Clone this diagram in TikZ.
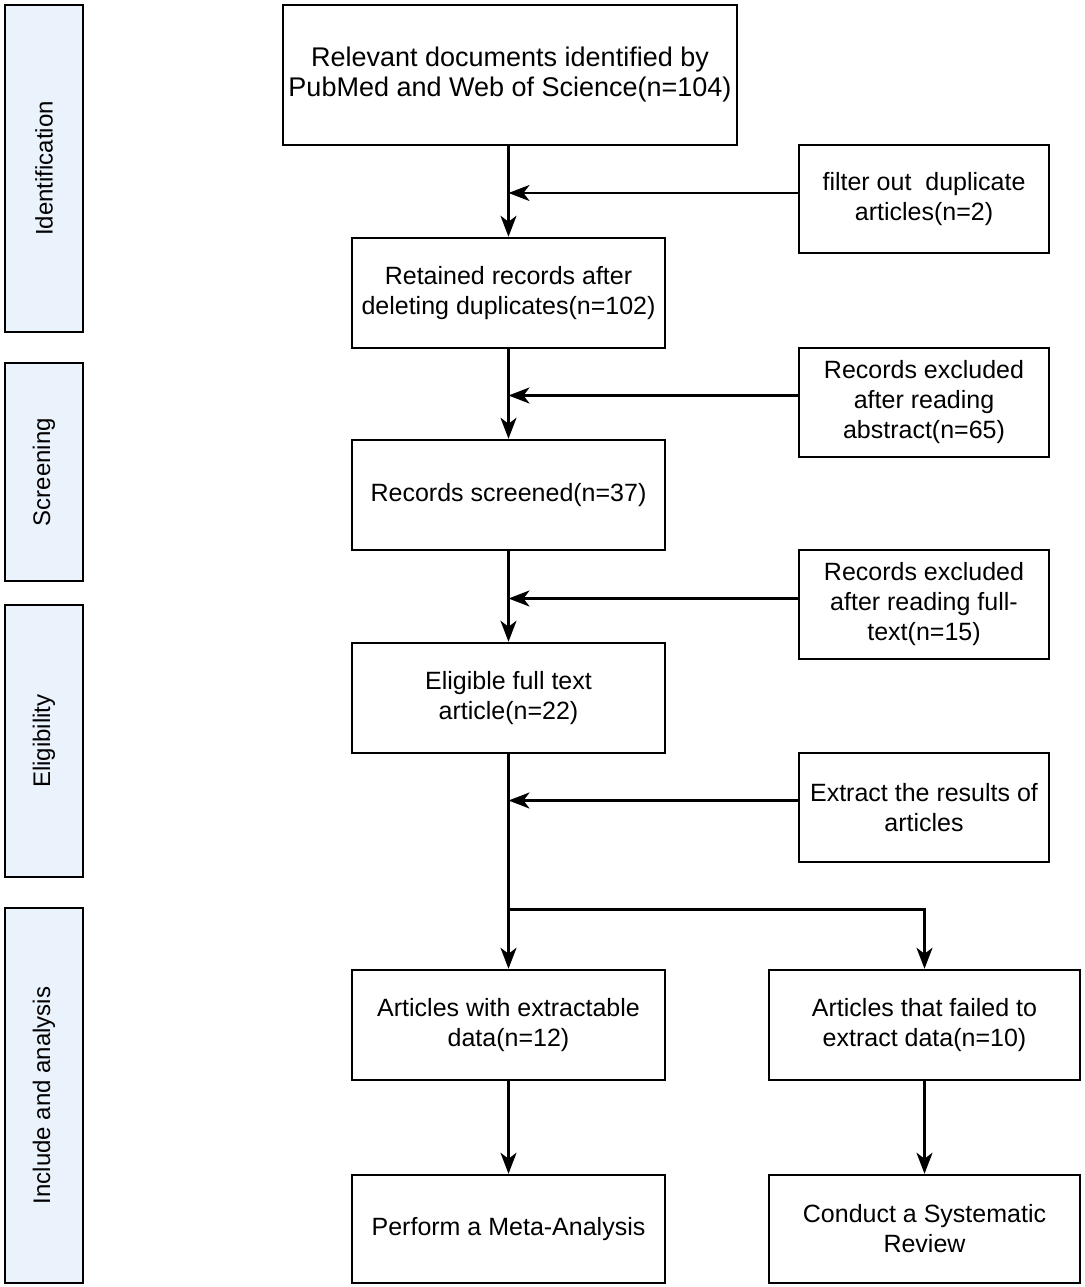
\documentclass[tikz,border=0pt]{standalone}
\usepackage{fontspec}
\setmainfont{Liberation Sans}
\usetikzlibrary{arrows.meta,calc}
\definecolor{phasefill}{RGB}{234,242,252}
\begin{document}
\begin{tikzpicture}[x=1pt,y=-1pt,
  every node/.style={font=\fontsize{25}{30}\selectfont},
  box/.style={draw,line width=2.5pt,rectangle,align=center,inner sep=0pt},
  phase/.style={draw,line width=2.5pt,rectangle,fill=phasefill,inner sep=0pt,minimum width=78pt},
  phaselabel/.style={rotate=90,font=\fontsize{24}{30}\selectfont},
  arr/.style={line width=2.5pt,-{Stealth[length=21pt,width=16pt,inset=6pt]}}]
\useasboundingbox (0,0) rectangle (1084,1287);
% phase boxes
\node[phase,minimum height=327pt] (pid) at (44,168.5) {};
\node[phaselabel] (lid) at (pid.center) {Identification};
\node[phase,minimum height=218pt] (psc) at (44,472) {};
\node[phaselabel] (lsc) at (psc.center) {Screening};
\node[phase,minimum height=272pt] (pel) at (44,741) {};
\node[phaselabel] (lel) at (pel.center) {Eligibility};
\node[phase,minimum height=375pt] (pin) at (44,1095.5) {};
\node[phaselabel] (lin) at (pin.center) {Include and analysis};
% main boxes
\node[box,minimum width=454pt,minimum height=140pt,font=\fontsize{27}{30}\selectfont] (b1) at (510,75) {Relevant documents identified by\\PubMed and Web of Science(n=104)};
\node[box,minimum width=250pt,minimum height=108pt] (s1) at (924,199) {filter out\ \ duplicate\\articles(n=2)};
\node[box,minimum width=313pt,minimum height=110pt] (b2) at (508.5,293) {Retained records after\\deleting duplicates(n=102)};
\node[box,minimum width=250pt,minimum height=109pt] (s2) at (924,402.5) {Records excluded\\after reading\\abstract(n=65)};
\node[box,minimum width=313pt,minimum height=110pt] (b3) at (508.5,495) {Records screened(n=37)};
\node[box,minimum width=250pt,minimum height=109pt] (s3) at (924,604.5) {Records excluded\\after reading full-\\text(n=15)};
\node[box,minimum width=313pt,minimum height=110pt] (b4) at (508.5,698) {Eligible full text\\article(n=22)};
\node[box,minimum width=250pt,minimum height=109pt] (s4) at (924,807.5) {Extract the results of\\articles};
\node[box,minimum width=313pt,minimum height=110pt] (b5) at (508.5,1025) {Articles with extractable\\data(n=12)};
\node[box,minimum width=311pt,minimum height=110pt] (b6) at (924.5,1025) {Articles that failed to\\extract data(n=10)};
\node[box,minimum width=313pt,minimum height=108pt] (b7) at (508.5,1229) {Perform a Meta-Analysis};
\node[box,minimum width=311pt,minimum height=108pt] (b8) at (924.5,1229) {Conduct a Systematic\\Review};
% connectors
\draw[arr] (b1.south -| b2.north) -- (b2.north);
\draw[arr] ([yshift=6pt]s1.west) -- ([yshift=6pt]s1.west -| b2.north);
\draw[arr] (b2.south) -- (b3.north);
\draw[arr] ([yshift=7pt]s2.west) -- ([yshift=7pt]s2.west -| b2.north);
\draw[arr] (b3.south) -- (b4.north);
\draw[arr] ([yshift=6pt]s3.west) -- ([yshift=6pt]s3.west -| b2.north);
\draw[arr] (b4.south) -- (b5.north);
\draw[arr] ([yshift=7pt]s4.west) -- ([yshift=7pt]s4.west -| b2.north);
\coordinate (br) at ($(b4.south)+(0,155)$);
\draw[arr] (br) -- (br -| b6.north) -- (b6.north);
\draw[arr] (b5.south) -- (b7.north);
\draw[arr] (b6.south) -- (b8.north);
\end{tikzpicture}
\end{document}
